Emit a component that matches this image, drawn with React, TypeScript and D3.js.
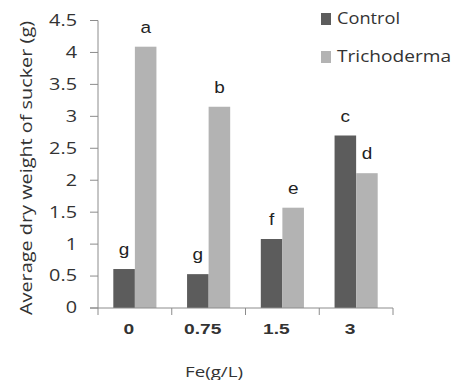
import { useEffect, useRef } from 'react';
import * as d3 from 'd3';

const categories = ['0', '0.75', '1.5', '3'];
const seriesNames = ['Control', 'Trichoderma'];
const controlValues = [0.61, 0.53, 1.08, 2.7];
const trichodermaValues = [4.09, 3.15, 1.57, 2.11];
const controlLetters = ['g', 'g', 'f', 'c'];
const trichodermaLetters = ['a', 'b', 'e', 'd'];
const yTicks = [0, 0.5, 1, 1.5, 2, 2.5, 3, 3.5, 4, 4.5];

const colors = ['#5c5c5c', '#b3b3b3'];
const axisColor = '#8c8c8c';
const stretch = 1.28;

export default function App() {
  const ref = useRef<SVGSVGElement | null>(null);

  useEffect(() => {
    if (!ref.current) return;
    document.body.style.margin = '0';
    const svg = d3.select(ref.current);
    svg.selectAll('*').remove();

    const width = 456;
    const height = 380;
    const left = 98;
    const right = 393;
    const top = 20.5;
    const bottom = 308;

    svg.attr('width', width).attr('height', height);
    svg.append('rect').attr('width', width).attr('height', height).attr('fill', '#fff');

    const x = d3.scaleBand<string>().domain(categories).range([left, right]);
    const xs = d3.scaleBand<string>()
      .domain(seriesNames)
      .range([0, x.bandwidth()])
      .paddingOuter(0.71);
    const y = d3.scaleLinear().domain([0, 4.5]).range([bottom, top]);

    const sans = '"Open Sans", "Noto Sans", sans-serif';
    const arial = '"Liberation Sans", Arial, sans-serif';

    // y axis
    const yAxis = svg.append('g');
    yAxis.append('line')
      .attr('x1', left).attr('x2', left)
      .attr('y1', y(4.5)).attr('y2', y(0))
      .attr('stroke', axisColor);
    yTicks.forEach((t) => {
      yAxis.append('line')
        .attr('x1', left - 8).attr('x2', left)
        .attr('y1', y(t)).attr('y2', y(t))
        .attr('stroke', axisColor);
      yAxis.append('text')
        .attr('transform', `translate(${left - 21},${y(t)}) scale(${stretch},1)`)
        .attr('text-anchor', 'end')
        .attr('dy', '0.35em')
        .attr('font-family', sans)
        .attr('font-size', 15.5)
        .attr('fill', '#333')
        .text(String(t));
    });

    // bars + significance letters
    const series = [controlValues, trichodermaValues];
    const letters = [controlLetters, trichodermaLetters];
    series.forEach((vals, si) => {
      categories.forEach((c, i) => {
        const bx = x(c)! + xs(seriesNames[si])!;
        svg.append('rect')
          .attr('x', bx)
          .attr('y', y(vals[i]))
          .attr('width', xs.bandwidth())
          .attr('height', y(0) - y(vals[i]))
          .attr('fill', colors[si]);
        svg.append('text')
          .attr('transform', `translate(${bx + xs.bandwidth() / 2},${y(vals[i]) - 14}) scale(1.15,1)`)
          .attr('text-anchor', 'middle')
          .attr('font-family', arial)
          .attr('font-size', 16.5)
          .attr('fill', '#222')
          .text(letters[si][i]);
      });
    });

    // x axis
    const xAxis = svg.append('g');
    xAxis.append('line')
      .attr('x1', left - 8).attr('x2', right)
      .attr('y1', bottom).attr('y2', bottom)
      .attr('stroke', axisColor);
    [...categories.map((c) => x(c)!), right].forEach((px) => {
      xAxis.append('line')
        .attr('x1', px).attr('x2', px)
        .attr('y1', bottom).attr('y2', bottom + 7)
        .attr('stroke', axisColor);
    });
    categories.forEach((c) => {
      xAxis.append('text')
        .attr('transform', `translate(${x(c)! + x.bandwidth() / 2 - 6},${bottom + 21}) scale(${stretch},1)`)
        .attr('text-anchor', 'middle')
        .attr('dy', '0.35em')
        .attr('font-family', arial)
        .attr('font-weight', 'bold')
        .attr('font-size', 15)
        .attr('fill', '#333')
        .text(c);
    });

    // titles
    svg.append('text')
      .attr('x', 185)
      .attr('y', bottom + 64)
      .attr('dy', '0.35em')
      .attr('textLength', 58)
      .attr('lengthAdjust', 'spacingAndGlyphs')
      .attr('font-family', sans)
      .attr('font-size', 15)
      .attr('fill', '#333')
      .text('Fe(g/L)');
    svg.append('text')
      .attr('transform', 'translate(26,315) rotate(-90)')
      .attr('dy', '0.35em')
      .attr('textLength', 294)
      .attr('lengthAdjust', 'spacingAndGlyphs')
      .attr('font-family', sans)
      .attr('font-size', 16)
      .attr('fill', '#333')
      .text('Average dry weight of sucker (g)');

    // legend
    const legend = svg.append('g').attr('transform', 'translate(321,19)');
    const legendWidths = [63, 114];
    seriesNames.forEach((name, i) => {
      const row = legend.append('g').attr('transform', `translate(0,${i * 38})`);
      row.append('rect')
        .attr('x', 0).attr('y', -6)
        .attr('width', 10).attr('height', 12)
        .attr('fill', colors[i]);
      row.append('text')
        .attr('x', 16)
        .attr('dy', '0.35em')
        .attr('textLength', legendWidths[i])
        .attr('lengthAdjust', 'spacingAndGlyphs')
        .attr('font-family', sans)
        .attr('font-size', 15.5)
        .attr('fill', '#333')
        .text(name);
    });
  }, []);

  return (
    <div>
      <svg ref={ref} style={{ display: 'block' }}></svg>
    </div>
  );
}
